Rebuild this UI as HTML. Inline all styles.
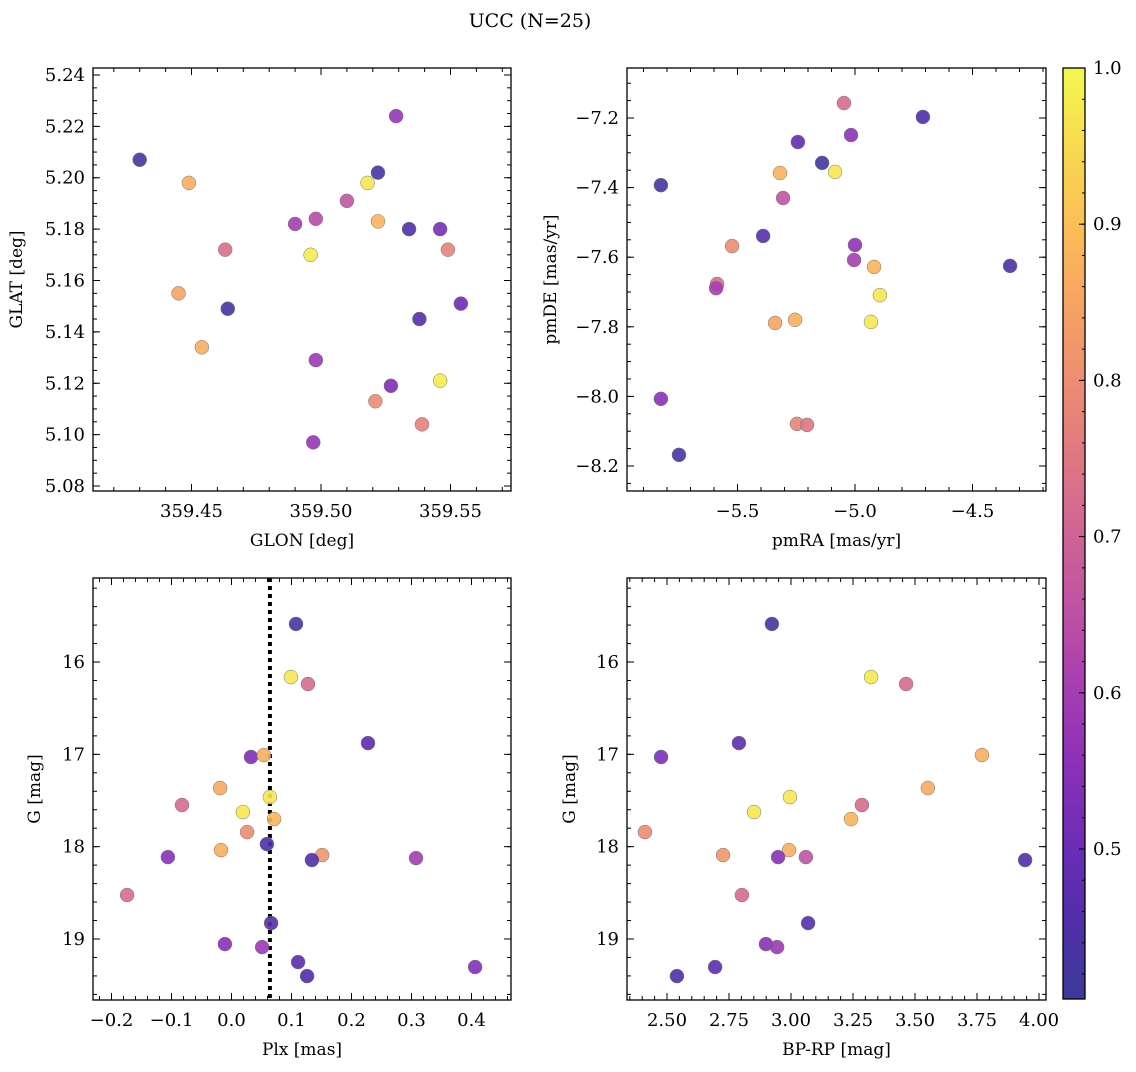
<!DOCTYPE html>
<html><head><meta charset="utf-8"><style>
body{margin:0;background:#fff;}
svg text{font-family:"DejaVu Serif","Liberation Serif",serif;fill:#000;}
</style></head><body>
<svg id="s" width="1136" height="1067" xmlns="http://www.w3.org/2000/svg">
<defs>
<linearGradient id="cmap" x1="0" y1="1" x2="0" y2="0">
<stop offset="0" stop-color="#3b3a98"/><stop offset="0.08" stop-color="#4f2fa8"/><stop offset="0.16" stop-color="#6a2db5"/>
<stop offset="0.25" stop-color="#8a30b8"/><stop offset="0.33" stop-color="#a53db3"/><stop offset="0.41" stop-color="#bc50a4"/>
<stop offset="0.50" stop-color="#cf6494"/><stop offset="0.58" stop-color="#df7783"/><stop offset="0.66" stop-color="#ec8c72"/>
<stop offset="0.75" stop-color="#f6a463"/><stop offset="0.83" stop-color="#fbbe56"/><stop offset="0.92" stop-color="#f8dc4f"/>
<stop offset="1" stop-color="#f3f750"/>
</linearGradient>
</defs>
<text x="530" y="27" font-size="19" text-anchor="middle">UCC (N=25)</text>
</svg>
<script>
// Panel 1: GLON vs GLAT
const glon1=[359.430,359.449,359.463,359.445,359.464,359.454,359.490,359.498,359.496,359.510,359.518,359.522,359.522,359.529,359.534,359.546,359.549,359.538,359.554,359.498,359.527,359.521,359.546,359.539,359.497];
const glat1=[5.207,5.198,5.172,5.155,5.149,5.134,5.182,5.184,5.170,5.191,5.198,5.202,5.183,5.224,5.180,5.180,5.172,5.145,5.151,5.129,5.119,5.113,5.121,5.104,5.097];
const prob1=[0.42,0.87,0.73,0.85,0.43,0.87,0.60,0.64,0.98,0.66,0.97,0.43,0.88,0.57,0.45,0.52,0.78,0.46,0.50,0.58,0.53,0.80,0.98,0.77,0.57];
// Panel 2: pmRA vs pmDE
const pmra2=[-5.826,-4.711,-5.047,-5.243,-5.017,-5.140,-5.319,-5.085,-5.306,-5.391,-5.523,-5.000,-5.004,-5.587,-5.591,-4.340,-4.919,-4.894,-5.255,-5.340,-4.932,-5.826,-5.247,-5.204,-5.749];
const pmde2=[-7.393,-7.197,-7.157,-7.269,-7.249,-7.329,-7.358,-7.355,-7.430,-7.539,-7.568,-7.565,-7.608,-7.677,-7.689,-7.625,-7.628,-7.709,-7.780,-7.789,-7.786,-8.007,-8.079,-8.082,-8.168];
const prob2=[0.43,0.45,0.72,0.48,0.56,0.42,0.88,0.97,0.66,0.46,0.80,0.56,0.60,0.73,0.60,0.44,0.88,0.97,0.87,0.85,0.97,0.55,0.78,0.75,0.43];
// Panel 3: Plx vs G
const plx3=[0.1075,0.099,0.1275,0.2275,0.0325,0.054,0.064,-0.019,-0.0825,0.019,0.071,0.026,-0.0175,0.059,0.151,0.134,-0.106,0.3075,-0.174,0.066,-0.011,0.051,0.111,0.126,0.406];
const g3=[15.588,16.163,16.238,16.878,17.029,17.008,17.463,17.365,17.549,17.625,17.701,17.842,18.037,17.972,18.091,18.145,18.113,18.124,18.524,18.828,19.055,19.088,19.250,19.402,19.304];
const prob3=[0.43,0.97,0.72,0.47,0.53,0.87,0.97,0.86,0.72,0.97,0.88,0.80,0.87,0.45,0.82,0.45,0.55,0.60,0.72,0.46,0.55,0.58,0.47,0.45,0.54];
const plxMean=0.064;
// Panel 4: BP-RP vs G
const bprp4=[2.923,3.323,3.464,2.790,2.476,3.770,2.996,3.552,3.286,2.851,3.242,2.411,2.992,3.944,2.726,3.060,2.948,2.802,3.069,2.899,2.944,2.694,2.540];
const g4=[15.588,16.163,16.238,16.878,17.029,17.008,17.463,17.365,17.549,17.625,17.701,17.842,18.037,18.145,18.091,18.113,18.113,18.524,18.828,19.055,19.088,19.304,19.402];
const prob4=[0.43,0.97,0.72,0.47,0.53,0.87,0.97,0.86,0.72,0.97,0.88,0.80,0.87,0.45,0.82,0.66,0.55,0.72,0.46,0.55,0.58,0.47,0.45];
const cbTicks=[0.5,0.6,0.7,0.8,0.9,1.0];

const NS="http://www.w3.org/2000/svg";
const svg=document.getElementById('s');
function mk(tag,attrs,parent){const e=document.createElementNS(NS,tag);for(const k in attrs)e.setAttribute(k,attrs[k]);(parent||svg).appendChild(e);return e;}
const stops=[[0.404,[59,58,152]],[0.45,[79,47,168]],[0.5,[106,45,181]],[0.55,[138,48,184]],[0.6,[165,61,179]],[0.65,[188,80,164]],[0.7,[207,100,148]],[0.75,[223,119,131]],[0.8,[236,140,114]],[0.85,[246,164,99]],[0.9,[251,190,86]],[0.95,[248,220,79]],[1.0,[243,247,80]]];
function cmap(p){for(let i=1;i<stops.length;i++){if(p<=stops[i][0]){const a=stops[i-1],b=stops[i];const t=Math.max(0,(p-a[0])/(b[0]-a[0]));const c=a[1].map((v,j)=>Math.round(v+(b[1][j]-v)*t));return `rgb(${c})`;}}return 'rgb(243,247,80)';}
function fmt(v,d){const s=Math.abs(v).toFixed(d);return (v<-1e-9?'\u2212':'')+s;}

function panel(o){
  const g=mk('g',{});
  
  
  const sx=v=>o.x0+(v-o.xmin)/(o.xmax-o.xmin)*(o.x1-o.x0);
  const sy=v=>o.yinv? o.y0+(v-o.ymin)/(o.ymax-o.ymin)*(o.y1-o.y0) : o.y1-(v-o.ymin)/(o.ymax-o.ymin)*(o.y1-o.y0);
  function ticks(min,max,step,len,isX,labels,dec){
    const n0=Math.ceil(min/step-1e-6),n1=Math.floor(max/step+1e-6);
    for(let n=n0;n<=n1;n++){const v=n*step;
      if(isX){const x=sx(v);
        mk('line',{x1:x,x2:x,y1:o.y1,y2:o.y1-len,stroke:'#000','stroke-width':1},g);
        mk('line',{x1:x,x2:x,y1:o.y0,y2:o.y0+len,stroke:'#000','stroke-width':1},g);
        if(labels){const t=mk('text',{x:x,y:o.y1+26,'font-size':18,'text-anchor':'middle'},g);t.textContent=fmt(v,dec);
          
          }
      }else{const y=sy(v);
        mk('line',{x1:o.x0,x2:o.x0+len,y1:y,y2:y,stroke:'#000','stroke-width':1},g);
        mk('line',{x1:o.x1,x2:o.x1-len,y1:y,y2:y,stroke:'#000','stroke-width':1},g);
        if(labels){const t=mk('text',{x:o.x0-8,y:y+6,'font-size':18,'text-anchor':'end'},g);t.textContent=fmt(v,dec);
          
          }
      }}
  }
  ticks(o.xmin,o.xmax,o.xminor,4,true,false);
  ticks(o.xmin,o.xmax,o.xmajor,7,true,true,o.xdec);
  ticks(Math.min(o.ymin,o.ymax),Math.max(o.ymin,o.ymax),o.yminor,4,false,false);
  ticks(Math.min(o.ymin,o.ymax),Math.max(o.ymin,o.ymax),o.ymajor,7,false,true,o.ydec);
  if(o.vline!==undefined){const l=mk('line',{x1:sx(o.vline),x2:sx(o.vline),y1:o.y0,y2:o.y1,stroke:'#000','stroke-width':4,'stroke-dasharray':'4 4'},g);
    
    }
  for(let i=0;i<o.xs.length;i++){
    const c=mk('circle',{cx:sx(o.xs[i]),cy:sy(o.ys[i]),r:7,fill:cmap(o.ps[i]),'fill-opacity':0.9,stroke:'#777','stroke-width':0.5},g);
    
    
  }
  const fr=mk('rect',{x:o.x0,y:o.y0,width:o.x1-o.x0,height:o.y1-o.y0,fill:'none',stroke:'#000','stroke-width':1.3},g);
  
  
  const xl=mk('text',{x:(o.x0+o.x1)/2,y:o.y1+55,'font-size':17,'text-anchor':'middle'},g);xl.textContent=o.xlabel;
  
  
  const yl=mk('text',{x:0,y:0,'font-size':17,'text-anchor':'middle',transform:`translate(${o.ylx},${(o.y0+o.y1)/2}) rotate(-90)`},g);yl.textContent=o.ylabel;
  
  
}
panel({name:'glon-glat-panel',x0:93,x1:511,y0:68,y1:491,
  xmin:359.50-(321-93)/2590,xmax:359.50+(511-321)/2590,ymin:5.08-(491-486)/2569,ymax:5.24+(75-68)/2569,
  xmajor:0.05,xminor:0.01,ymajor:0.02,yminor:0.005,xdec:2,ydec:2,xs:glon1,ys:glat1,ps:prob1,xlabel:'GLON [deg]',ylabel:'GLAT [deg]',ylx:22});
panel({name:'pm-panel',x0:627,x1:1046,y0:68,y1:491,
  xmin:-5-(855-627)/235,xmax:-5+(1046-855)/235,ymin:-8.2-(491-466)/348,ymax:-7.2+(118-68)/348,
  xmajor:0.5,xminor:0.1,ymajor:0.2,yminor:0.05,xdec:1,ydec:1,xs:pmra2,ys:pmde2,ps:prob2,xlabel:'pmRA [mas/yr]',ylabel:'pmDE [mas/yr]',ylx:556});
panel({name:'plx-g-panel',x0:93,x1:511,y0:578,y1:1000,yinv:true,
  xmin:(93-231.5)/600,xmax:(511-231.5)/600,ymin:16-(662-578)/92.3,ymax:19+(1000-939)/92.3,
  xmajor:0.1,xminor:0.02,ymajor:1,yminor:0.2,xdec:1,ydec:0,xs:plx3,ys:g3,ps:prob3,xlabel:'Plx [mas]',ylabel:'G [mag]',ylx:40,vline:plxMean});
panel({name:'cmd-panel',x0:627,x1:1046,y0:578,y1:1000,yinv:true,
  xmin:2.5-(667-627)/248,xmax:4+(1046-1039)/248,ymin:16-(662-578)/92.3,ymax:19+(1000-939)/92.3,
  xmajor:0.25,xminor:0.05,ymajor:1,yminor:0.2,xdec:2,ydec:0,xs:bprp4,ys:g4,ps:prob4,xlabel:'BP-RP [mag]',ylabel:'G [mag]',ylx:575});
const cb=mk('g',{});


const cbx0=1063,cbx1=1085,cby0=68,cby1=999,cmin=0.5-(999-849)/1562,cmax=1.0;
mk('rect',{x:cbx0,y:cby0,width:cbx1-cbx0,height:cby1-cby0,fill:'url(#cmap)',stroke:'#000','stroke-width':1.3},cb);
const cy=v=>cby1-(v-cmin)/(cmax-cmin)*(cby1-cby0);
for(let v=0.42;v<=1.0001;v+=0.02){const y=cy(v);mk('line',{x1:cbx1,x2:cbx1-3,y1:y,y2:y,stroke:'#000'},cb);}
cbTicks.forEach(v=>{const y=cy(v);mk('line',{x1:cbx1,x2:cbx1-6,y1:y,y2:y,stroke:'#000'},cb);
  const t=mk('text',{x:cbx1+8,y:y+6,'font-size':18},cb);t.textContent=v.toFixed(1);
  
  });
</script>
</body></html>
